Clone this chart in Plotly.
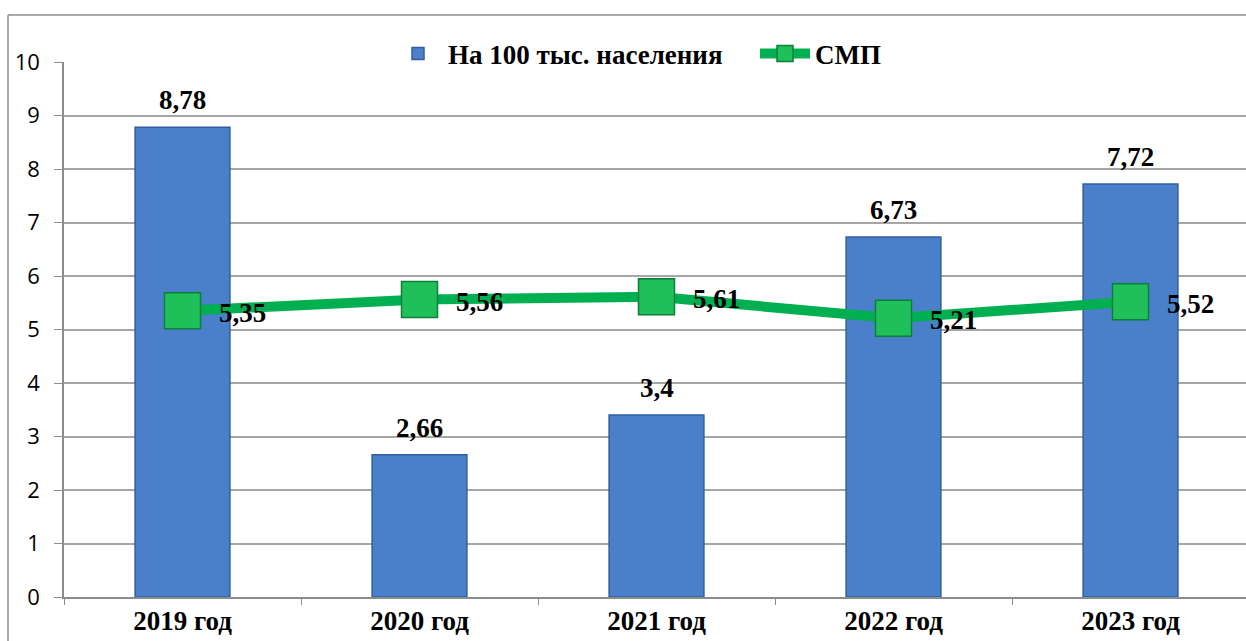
import plotly.graph_objects as go

# Chart data
years = ["2019 год", "2020 год", "2021 год", "2022 год", "2023 год"]
per_100k = [8.78, 2.66, 3.4, 6.73, 7.72]
smp = [5.35, 5.56, 5.61, 5.21, 5.52]
y_ticks = [0, 1, 2, 3, 4, 5, 6, 7, 8, 9, 10]

W, H = 1246, 641
M_L, M_R, M_T, M_B = 64, 0, 62, 44

SERIF = "Liberation Serif"
SANS = "Open Sans"
LABEL_FONT = dict(family=SERIF, size=27, color="black", weight="bold")


def fmt(v):
    return f"{v:g}".replace(".", ",")


fig = go.Figure()

fig.add_trace(go.Bar(
    x=years,
    y=per_100k,
    name="На 100 тыс. населения",
    width=0.4,
    marker=dict(color="#4a7fca", line=dict(color="#2f5f9e", width=1.5)),
))

fig.add_trace(go.Scatter(
    x=years,
    y=smp,
    name="СМП",
    mode="lines+markers",
    line=dict(color="#00b050", width=10),
    marker=dict(symbol="square", size=36, color="#1fbf5a",
                line=dict(color="#0c7f3a", width=1.5)),
    cliponaxis=False,
))

# Value labels above the bars
for yr, v in zip(years, per_100k):
    fig.add_annotation(x=yr, y=v, text=fmt(v), showarrow=False,
                       xanchor="center", yanchor="bottom", yshift=10,
                       font=LABEL_FONT)

# Value labels to the right of the line markers
for yr, v in zip(years, smp):
    fig.add_annotation(x=yr, y=v, text=fmt(v), showarrow=False,
                       xanchor="left", yanchor="middle", xshift=34, yshift=-2,
                       font=LABEL_FONT)

# Outer chart frame (left and top edges)
plot_w = W - M_L - M_R
plot_h = H - M_T - M_B
fx0 = (8 - M_L) / plot_w
fy1 = 1 + (M_T - 15) / plot_h
fig.add_shape(type="line", xref="paper", yref="paper",
              x0=fx0, x1=fx0, y0=-1, y1=fy1,
              line=dict(color="#8c8c8c", width=1.5), layer="below")
fig.add_shape(type="line", xref="paper", yref="paper",
              x0=fx0, x1=1.1, y0=fy1, y1=fy1,
              line=dict(color="#8c8c8c", width=1.5), layer="below")

fig.update_layout(
    width=W, height=H,
    margin=dict(l=M_L, r=M_R, t=M_T, b=M_B, pad=0, autoexpand=False),
    paper_bgcolor="white",
    plot_bgcolor="white",
    showlegend=True,
    legend=dict(
        orientation="h",
        x=(388 - M_L) / plot_w, xanchor="left",
        y=1 + 8 / plot_h, yanchor="middle",
        bgcolor="rgba(0,0,0,0)",
        font=dict(family=SERIF, size=27, color="black", weight="bold"),
        itemwidth=50,
        entrywidth=302,
        entrywidthmode="pixels",
        tracegroupgap=0,
    ),
    xaxis=dict(
        range=[-0.5, -0.5 + plot_w / 237],
        automargin=False,
        showgrid=False,
        showline=True,
        linecolor="#8c8c8c",
        linewidth=1.5,
        ticks="outside",
        tickson="boundaries",
        ticklen=6,
        tickcolor="#8c8c8c",
        tickfont=dict(family=SERIF, size=27, color="black", weight="bold"),
        ticklabelstandoff=-1,
        fixedrange=True,
    ),
    yaxis=dict(
        range=[0, 10],
        tickvals=y_ticks,
        automargin=False,
        showgrid=True,
        gridcolor="#a6a6a6",
        gridwidth=1.5,
        showline=True,
        linecolor="#8c8c8c",
        linewidth=1.5,
        ticks="outside",
        ticklen=8,
        tickcolor="#8c8c8c",
        tickfont=dict(family=SANS, size=22, color="black"),
        ticklabelstandoff=10,
        zeroline=False,
        fixedrange=True,
    ),
)

fig.write_html("out.html")
